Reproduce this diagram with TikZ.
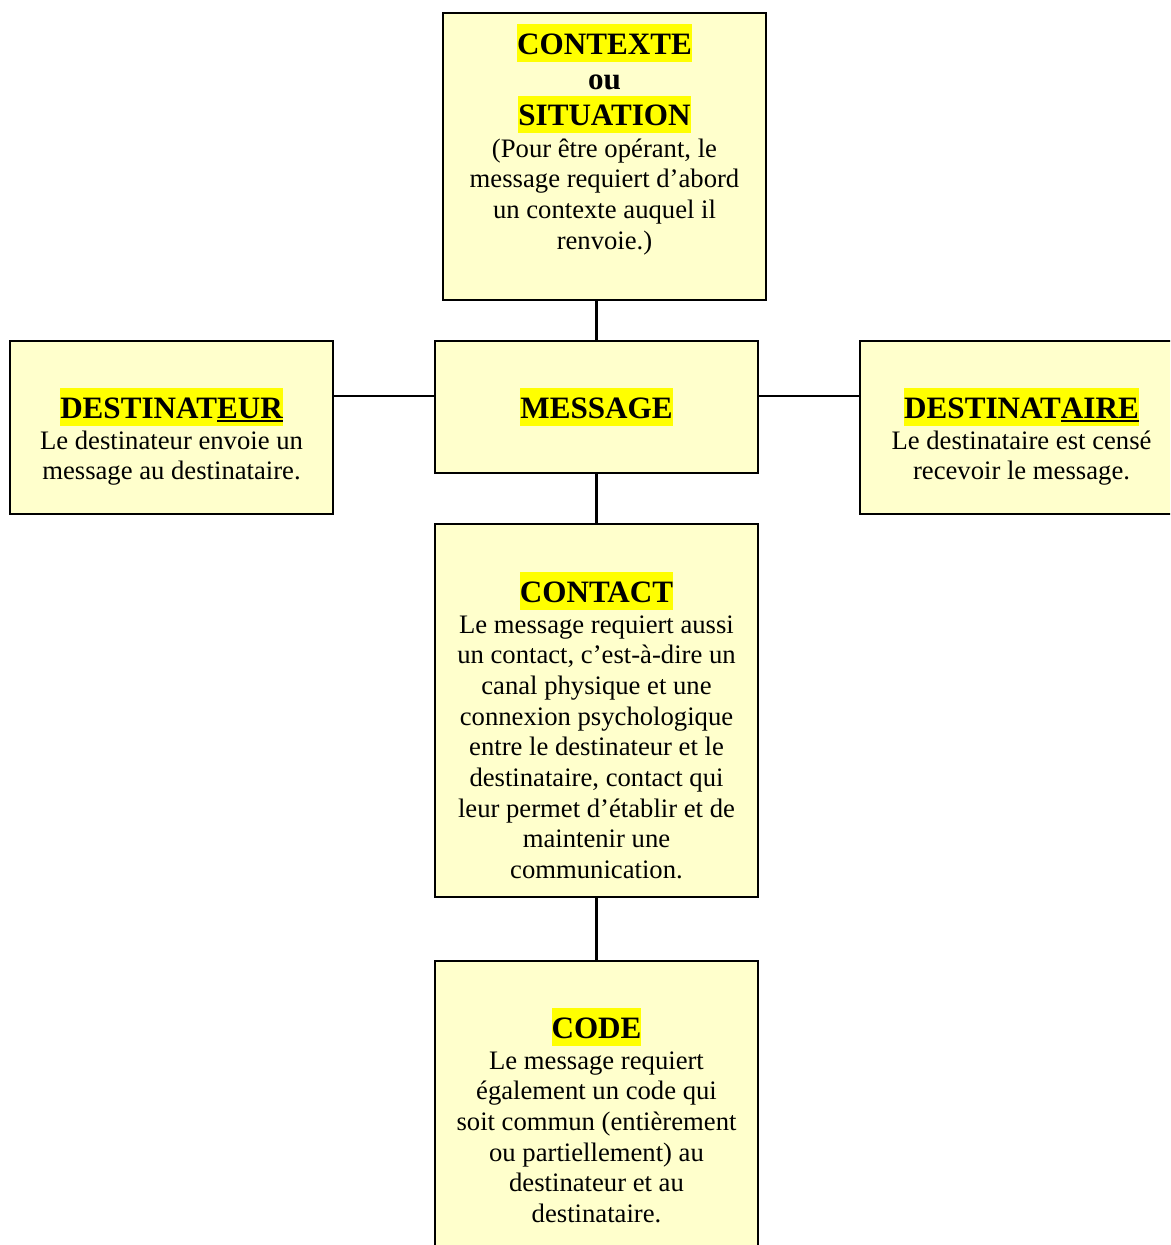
\documentclass[tikz,border=0pt]{standalone}
\usepackage{fontspec}
\setmainfont{Liberation Serif}

\definecolor{boxfill}{HTML}{FFFFCC}
\definecolor{hilite}{HTML}{FFFF00}

\newsavebox{\ulbox}
\newcommand{\ulbar}[1]{\sbox{\ulbox}{#1}\rlap{\rule[-1.7pt]{\wd\ulbox}{0.9pt}}\usebox{\ulbox}}
\newcommand{\hlt}[1]{{\setlength{\fboxsep}{0pt}\fontsize{14}{16.1}\selectfont\bfseries
  \colorbox{hilite}{\rule[-3.2pt]{0pt}{16.7pt}#1}}}
\newcommand{\ttl}[1]{{\fontsize{14}{16.1}\selectfont\bfseries #1}}
\newcommand{\bodyfont}{\fontsize{12}{13.8}\selectfont\lineskiplimit=-\maxdimen\relax}

\begin{document}
\begin{tikzpicture}[x=0.45pt, y=-0.45pt,
    box/.style={draw, fill=boxfill, line width=0.9pt, inner sep=0pt, minimum width=145.35pt},
    txt/.style={anchor=north, align=center, inner sep=0pt, font=\bodyfont},
    link/.style={line width=0.95pt}]
  \useasboundingbox (0,0) rectangle (1170,1245);
  \clip (0,0) rectangle (1170,1245);

  % Boxes
  \node[box, minimum height=129.15pt] (ctx) at (604.5,156.5) {};
  \node[box, minimum height=77.85pt] (dteur) at (171.5,427.5) {};
  \node[box, minimum height=59.4pt] (msg) at (596.5,407) {};
  \node[box, minimum height=77.85pt] (dtaire) at (1021.5,427.5) {};
  \node[box, minimum height=167.85pt] (contact) at (596.5,710.5) {};
  \node[box, minimum height=152.55pt] (code) at (596.5,1130.5) {};

  % Texts
  \node[txt] (ctxt) at (604.5,24) {\hlt{CONTEXTE}\\[2.2pt] \ttl{ou}\\[2.2pt] \hlt{SITUATION}\\[0.4pt]
    (Pour être opérant, le\\ message requiert d’abord\\ un contexte auquel il\\ renvoie.)};
  \node[txt] (dteurt) at (171.5,388) {\hlt{DESTINAT\ulbar{EUR}}\\
    Le destinateur envoie un\\ message au destinataire.};
  \node[txt] (msgt) at (596.5,388) {\hlt{MESSAGE}};
  \node[txt] (dtairet) at (1021.5,388) {\hlt{DESTINAT\ulbar{AIRE}}\\
    Le destinataire est censé\\ recevoir le message.};
  \node[txt] (contactt) at (596.5,572) {\hlt{CONTACT}\\
    Le message requiert aussi\\ un contact, c’est-à-dire un\\ canal physique et une\\
    connexion psychologique\\ entre le destinateur et le\\ destinataire, contact qui\\
    leur permet d’établir et de\\ maintenir une\\ communication.};
  \node[txt] (codet) at (596.5,1008) {\hlt{CODE}\\
    Le message requiert\\ également un code qui\\ soit commun (entièrement\\
    ou partiellement) au\\ destinateur et au\\ destinataire.};

  % Links
  \coordinate (side) at (0,396);
  \draw[link] (msg.north) -- (msg.north |- ctx.south);
  \draw[link] (dteur.east |- side) -- (msg.west |- side);
  \draw[link] (msg.east |- side) -- (dtaire.west |- side);
  \draw[link] (msg.south) -- (contact.north);
  \draw[link] (contact.south) -- (code.north);
\end{tikzpicture}
\end{document}
